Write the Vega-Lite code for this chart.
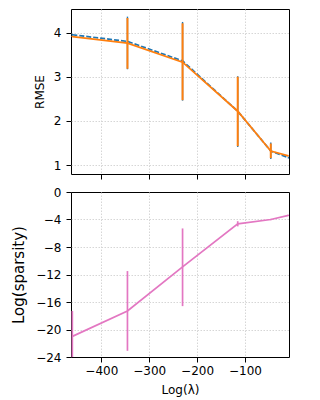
{
  "$schema": "https://vega.github.io/schema/vega-lite/v6.json",
  "padding": {"left": 11, "top": 8, "right": 5, "bottom": 2},
  "background": "white",
  "config": {
    "font": "DejaVu Sans",
    "view": {"stroke": "black", "strokeWidth": 1},
    "axis": {
      "domain": false,
      "tickColor": "black",
      "tickSize": 5,
      "tickWidth": 1,
      "labelPadding": 4,
      "labelFontSize": 12,
      "labelColor": "black",
      "labelFont": "DejaVu Sans",
      "labelOverlap": false,
      "labelFlush": false,
      "titleFont": "DejaVu Sans",
      "titleColor": "black",
      "titleFontWeight": "normal",
      "titleFontSize": 12,
      "gridColor": "#d6d6d6",
      "gridDash": [1.5, 1.5],
      "gridWidth": 1
    }
  },
  "datasets": {
    "rmse": [
      {"series": "blue", "x": -460.5, "y": 3.95, "lo": 3.93, "hi": 3.97},
      {"series": "blue", "x": -345.4, "y": 3.80, "lo": 3.17, "hi": 4.36},
      {"series": "blue", "x": -230.3, "y": 3.36, "lo": 2.46, "hi": 4.24},
      {"series": "blue", "x": -115.1, "y": 2.22, "lo": 1.41, "hi": 3.01},
      {"series": "blue", "x": -46.05, "y": 1.32, "lo": 1.14, "hi": 1.51},
      {"series": "blue", "x": -9.21, "y": 1.17, "lo": 1.15, "hi": 1.19},
      {"series": "orange", "x": -460.5, "y": 3.91, "lo": 3.90, "hi": 3.92},
      {"series": "orange", "x": -345.4, "y": 3.76, "lo": 3.18, "hi": 4.33},
      {"series": "orange", "x": -230.3, "y": 3.33, "lo": 2.47, "hi": 4.21},
      {"series": "orange", "x": -115.1, "y": 2.22, "lo": 1.43, "hi": 3.00},
      {"series": "orange", "x": -46.05, "y": 1.32, "lo": 1.16, "hi": 1.49},
      {"series": "orange", "x": -9.21, "y": 1.21, "lo": 1.20, "hi": 1.22}
    ],
    "sparsity": [
      {"x": -460.5, "y": -21.0, "lo": -24.7, "hi": -17.3},
      {"x": -345.4, "y": -17.3, "lo": -23.1, "hi": -11.5},
      {"x": -230.3, "y": -10.9, "lo": -16.6, "hi": -5.3},
      {"x": -115.1, "y": -4.64, "lo": -5.0, "hi": -4.25},
      {"x": -46.05, "y": -4.0, "lo": -4.1, "hi": -3.9},
      {"x": -9.21, "y": -3.4, "lo": -3.5, "hi": -3.3}
    ]
  },
  "bounds": "flush",
  "spacing": 18,
  "vconcat": [
    {
      "width": 218,
      "height": 165,
      "data": {"name": "rmse"},
      "encoding": {
        "x": {
          "field": "x",
          "type": "quantitative",
          "scale": {"domain": [-463.3, -8], "nice": false, "zero": false},
          "axis": {"values": [-400, -300, -200, -100], "labels": false, "title": null}
        }
      },
      "layer": [
        {
          "transform": [{"filter": "datum.series === 'blue'"}],
          "mark": {"type": "rule", "color": "#1f77b4", "strokeWidth": 1.4, "clip": true},
          "encoding": {
            "y": {
              "field": "lo",
              "type": "quantitative",
              "scale": {"domain": [0.8, 4.533], "nice": false, "zero": false},
              "axis": {"values": [1, 2, 3, 4], "title": "RMSE", "titlePadding": 7, "labelPadding": 5}
            },
            "y2": {"field": "hi"}
          }
        },
        {
          "transform": [{"filter": "datum.series === 'blue'"}],
          "mark": {"type": "line", "color": "#1f77b4", "strokeWidth": 1.7, "strokeDash": [5, 2], "clip": true},
          "encoding": {"y": {"field": "y", "type": "quantitative"}}
        },
        {
          "transform": [{"filter": "datum.series === 'orange'"}],
          "mark": {"type": "rule", "color": "#ff7f0e", "strokeWidth": 2, "clip": true},
          "encoding": {
            "y": {"field": "lo", "type": "quantitative"},
            "y2": {"field": "hi"}
          }
        },
        {
          "transform": [{"filter": "datum.series === 'orange'"}],
          "mark": {"type": "line", "color": "#ff7f0e", "strokeWidth": 1.8, "clip": true},
          "encoding": {"y": {"field": "y", "type": "quantitative"}}
        }
      ]
    },
    {
      "width": 218,
      "height": 165,
      "data": {"name": "sparsity"},
      "encoding": {
        "x": {
          "field": "x",
          "type": "quantitative",
          "scale": {"domain": [-463.3, -8], "nice": false, "zero": false},
          "axis": {"values": [-400, -300, -200, -100], "title": "Log(λ)", "titlePadding": 8, "labelPadding": 3}
        }
      },
      "layer": [
        {
          "mark": {"type": "rule", "color": "#e377c2", "strokeWidth": 1.7, "clip": true},
          "encoding": {
            "y": {
              "field": "lo",
              "type": "quantitative",
              "scale": {"domain": [-24, 0], "nice": false, "zero": false},
              "axis": {
                "values": [-24, -20, -16, -12, -8, -4, 0],
                "labelOverlap": false,
                "labelSeparation": 0,
                "title": "Log(sparsity)",
                "titleFontSize": 15,
                "titlePadding": 9,
                "labelPadding": 5,
                "gridOpacity": {"condition": {"test": "datum.value === 0 || datum.value === -24", "value": 0}, "value": 1}
              }
            },
            "y2": {"field": "hi"}
          }
        },
        {
          "mark": {"type": "line", "color": "#e377c2", "strokeWidth": 1.7, "clip": true},
          "encoding": {"y": {"field": "y", "type": "quantitative", "axis": {"values": [-24, -20, -16, -12, -8, -4, 0], "labelOverlap": false}}}
        }
      ]
    }
  ]
}
